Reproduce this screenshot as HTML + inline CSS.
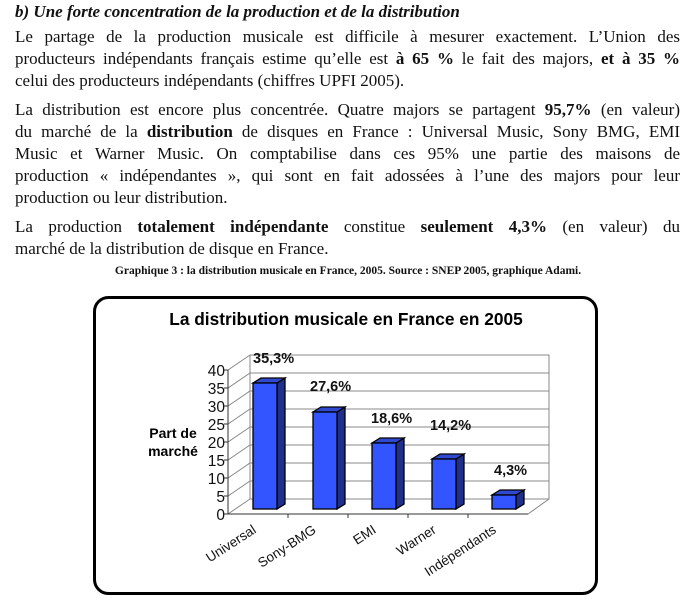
<!DOCTYPE html>
<html><head><meta charset="utf-8"><style>
body{margin:0;background:#fff;width:696px;height:600px;position:relative;overflow:hidden;font-family:"Liberation Serif",serif;color:#111}
.l{position:absolute;left:15px;width:665px;font-size:17px;line-height:22px;white-space:nowrap;text-align:justify;text-align-last:justify}
.n{text-align-last:left}
.h{position:absolute;left:15px;top:2px;font-size:17px;font-weight:bold;font-style:italic}
.cap{position:absolute;left:0;width:696px;top:265px;text-align:center;font-size:11.5px;font-weight:bold}
</style></head><body>
<div class="h">b) Une forte concentration de la production et de la distribution</div>
<div class="l" style="top:26px">Le partage de la production musicale est difficile à mesurer exactement. L’Union des</div>
<div class="l" style="top:48px">producteurs indépendants français estime qu’elle est <b>à 65 %</b> le fait des majors, <b>et à 35 %</b></div>
<div class="l n" style="top:70px">celui des producteurs indépendants (chiffres UPFI 2005).</div>
<div class="l" style="top:99px">La distribution est encore plus concentrée. Quatre majors se partagent <b>95,7%</b> (en valeur)</div>
<div class="l" style="top:121px">du marché de la <b>distribution</b> de disques en France : Universal Music, Sony BMG, EMI</div>
<div class="l" style="top:143px">Music et Warner Music. On comptabilise dans ces 95% une partie des maisons de</div>
<div class="l" style="top:165px">production « indépendantes », qui sont en fait adossées à l’une des majors pour leur</div>
<div class="l n" style="top:187px">production ou leur distribution.</div>
<div class="l" style="top:216px">La production <b>totalement indépendante</b> constitue <b>seulement 4,3%</b> (en valeur) du</div>
<div class="l n" style="top:238px">marché de la distribution de disque en France.</div>
<div class="cap">Graphique 3 : la distribution musicale en France, 2005. Source : SNEP 2005, graphique Adami.</div>
<svg style="position:absolute;left:0;top:0" width="696" height="600" font-family="Liberation Sans, sans-serif">
<rect x="94.5" y="297.5" width="502" height="296" rx="14" fill="#fff" stroke="#000" stroke-width="3"/>
<text x="346" y="325" text-anchor="middle" font-size="17.3" font-weight="bold">La distribution musicale en France en 2005</text>
<g stroke="#888" stroke-width="1" fill="none">
<polyline points="250,355 549,355 549,499 528,514 228,514"/>
<line x1="250" y1="355" x2="250" y2="499"/>
<line x1="228" y1="370" x2="250" y2="355"/>
<line x1="228" y1="514" x2="250" y2="499"/>
<line x1="250" y1="499" x2="549" y2="499"/>
</g>
<g stroke="#888" stroke-width="1">
<line x1="250" y1="373" x2="549" y2="373"/><line x1="250" y1="391" x2="549" y2="391"/>
<line x1="250" y1="409" x2="549" y2="409"/><line x1="250" y1="427" x2="549" y2="427"/>
<line x1="250" y1="445" x2="549" y2="445"/><line x1="250" y1="463" x2="549" y2="463"/>
<line x1="250" y1="481" x2="549" y2="481"/>
<line x1="228" y1="388" x2="250" y2="373"/><line x1="228" y1="406" x2="250" y2="391"/>
<line x1="228" y1="424" x2="250" y2="409"/><line x1="228" y1="442" x2="250" y2="427"/>
<line x1="228" y1="460" x2="250" y2="445"/><line x1="228" y1="478" x2="250" y2="463"/>
<line x1="228" y1="496" x2="250" y2="481"/>
</g>
<g stroke="#333" stroke-width="1">
<line x1="228" y1="370" x2="228" y2="514"/>
<line x1="228" y1="514" x2="528" y2="514"/>
<line x1="224" y1="370" x2="228" y2="370"/><line x1="224" y1="388" x2="228" y2="388"/><line x1="224" y1="406" x2="228" y2="406"/><line x1="224" y1="424" x2="228" y2="424"/><line x1="224" y1="442" x2="228" y2="442"/><line x1="224" y1="460" x2="228" y2="460"/><line x1="224" y1="478" x2="228" y2="478"/><line x1="224" y1="496" x2="228" y2="496"/><line x1="224" y1="514" x2="228" y2="514"/>
<line x1="288" y1="514" x2="288" y2="518"/><line x1="348" y1="514" x2="348" y2="518"/><line x1="408" y1="514" x2="408" y2="518"/><line x1="468" y1="514" x2="468" y2="518"/>
</g>
<g font-size="15.5" text-anchor="end" fill="#111">
<text x="225" y="376">40</text><text x="225" y="394">35</text><text x="225" y="412">30</text><text x="225" y="430">25</text><text x="225" y="448">20</text><text x="225" y="466">15</text><text x="225" y="484">10</text><text x="225" y="502">5</text><text x="225" y="520">0</text>
</g>
<text x="173" y="438" font-size="14" font-weight="bold" text-anchor="middle">Part de</text>
<text x="173" y="456" font-size="14" font-weight="bold" text-anchor="middle">marché</text>
<g stroke="#000" stroke-width="1.3">
<g><polygon points="277,383 285,378 285,504 277,509" fill="#1f2f8a"/><polygon points="253,383 261,378 285,378 277,383" fill="#2f4ad0"/><rect x="253" y="383" width="24" height="126" fill="#3355ff"/></g>
<g><polygon points="337,412 345,407 345,504 337,509" fill="#1f2f8a"/><polygon points="313,412 321,407 345,407 337,412" fill="#2f4ad0"/><rect x="313" y="412" width="24" height="97" fill="#3355ff"/></g>
<g><polygon points="396,443 404,438 404,504 396,509" fill="#1f2f8a"/><polygon points="372,443 380,438 404,438 396,443" fill="#2f4ad0"/><rect x="372" y="443" width="24" height="66" fill="#3355ff"/></g>
<g><polygon points="456,459 464,454 464,504 456,509" fill="#1f2f8a"/><polygon points="432,459 440,454 464,454 456,459" fill="#2f4ad0"/><rect x="432" y="459" width="24" height="50" fill="#3355ff"/></g>
<g><polygon points="516,495 524,490 524,504 516,509" fill="#1f2f8a"/><polygon points="492,495 500,490 524,490 516,495" fill="#2f4ad0"/><rect x="492" y="495" width="24" height="14" fill="#3355ff"/></g>
</g>
<g font-size="14.5" font-weight="bold" fill="#111">
<text x="253" y="363">35,3%</text><text x="310" y="391">27,6%</text><text x="371" y="423">18,6%</text><text x="430" y="430">14,2%</text><text x="494" y="475">4,3%</text>
</g>
<g font-size="13.5" text-anchor="end" fill="#111">
<text transform="translate(257,532) rotate(-33)">Universal</text>
<text transform="translate(317,532) rotate(-33)">Sony-BMG</text>
<text transform="translate(377,532) rotate(-33)">EMI</text>
<text transform="translate(437,532) rotate(-33)">Warner</text>
<text transform="translate(497,532) rotate(-33)">Indépendants</text>
</g>
</svg>
</body></html>
